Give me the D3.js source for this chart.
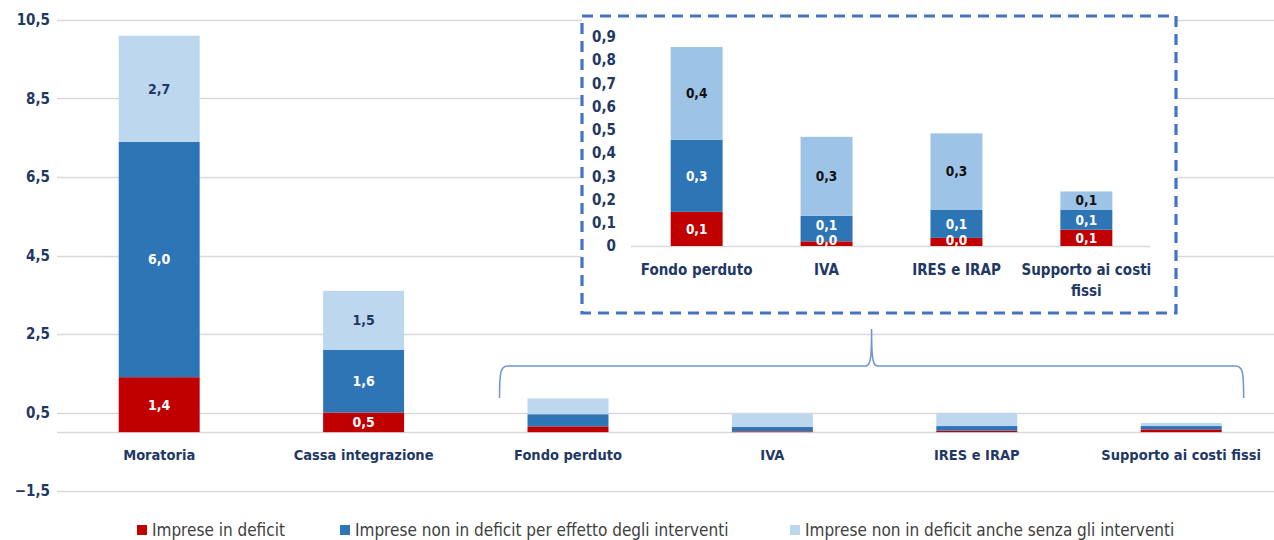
<!DOCTYPE html>
<meta charset="utf-8">
<style>
    body { margin: 0; background: #fff; }
    svg { display: block; font-family: "Liberation Sans Narrow", "DejaVu Sans Condensed", sans-serif; }
</style>
<svg width="1274" height="540"></svg>
<script src="https://d3js.org/d3.v7.min.js"></script>
<script>

    // categorie del grafico principale
    var categories = ["Moratoria", "Cassa integrazione", "Fondo perduto", "IVA", "IRES e IRAP", "Supporto ai costi fissi"];
    var insetCategories = ["Fondo perduto", "IVA", "IRES e IRAP", "Supporto ai costi fissi"];

    // valori (miliardi) per serie
    var deficit    = [1.4, 0.5, 0.147, 0.02, 0.035, 0.07];
    var salvate    = [6.0, 1.6, 0.31, 0.11, 0.12, 0.085];
    var nonDeficit = [2.7, 1.5, 0.40, 0.34, 0.33, 0.08];

    var seriesNames = ["Imprese in deficit", "Imprese non in deficit per effetto degli interventi", "Imprese non in deficit anche senza gli interventi"];

    var yTicks = [-1.5, 0.5, 2.5, 4.5, 6.5, 8.5, 10.5];
    var insetTicks = [0, 0.1, 0.2, 0.3, 0.4, 0.5, 0.6, 0.7, 0.8, 0.9];

    var colors = ["#C00000", "#2E75B6", "#BDD7EE"];
    var insetColors = ["#C00000", "#2E75B6", "#9DC3E6"];
    var navy = "#1F3864";

    var fmt = function (v) { return d3.format(".1f")(v).replace(".", ","); };

    var table = categories.map(function (c, i) {
        return { cat: c, s0: deficit[i], s1: salvate[i], s2: nonDeficit[i] };
    });
    var stack = d3.stack().keys(["s0", "s1", "s2"]);
    var layers = stack(table);

    var svg = d3.select("svg");

    // ---- grafico principale ----
    var x = d3.scaleBand().domain(categories).range([57, 1283.4]).paddingInner(0.604).paddingOuter(0.302);
    var y = d3.scaleLinear().domain([-1.5, 10.5]).range([491, 20]);

    svg.append("g").selectAll("line").data(yTicks.concat([0])).enter().append("line")
        .attr("x1", 57).attr("x2", 1274)
        .attr("y1", function (d) { return Math.round(y(d)) + 0.5; })
        .attr("y2", function (d) { return Math.round(y(d)) + 0.5; })
        .attr("stroke", "#d9d9d9").attr("stroke-width", 1.3);

    svg.append("g").selectAll("text").data(yTicks).enter().append("text")
        .attr("x", 50).attr("y", function (d) { return y(d); })
        .attr("dy", "0.35em").attr("text-anchor", "end")
        .attr("font-size", 15).attr("font-weight", "bold").attr("fill", navy)
        .text(fmt);

    var bars = svg.append("g").selectAll("g").data(layers).enter().append("g")
        .attr("fill", function (d, i) { return colors[i]; });
    bars.selectAll("rect").data(function (d) { return d; }).enter().append("rect")
        .attr("x", function (d) { return x(d.data.cat); })
        .attr("width", x.bandwidth())
        .attr("y", function (d) { return y(d[1]); })
        .attr("height", function (d) { return y(d[0]) - y(d[1]); });

    // etichette solo per le prime due categorie
    layers.forEach(function (layer, li) {
        svg.append("g").selectAll("text").data(layer.slice(0, 2)).enter().append("text")
            .attr("x", function (d) { return x(d.data.cat) + x.bandwidth() / 2; })
            .attr("y", function (d) { return y((d[0] + d[1]) / 2); })
            .attr("dy", "0.35em").attr("text-anchor", "middle")
            .attr("font-size", 14).attr("font-weight", "bold")
            .attr("fill", li === 2 ? navy : "#fff")
            .text(function (d) { return fmt(d[1] - d[0]); });
    });

    svg.append("g").selectAll("text").data(categories).enter().append("text")
        .attr("x", function (d) { return x(d) + x.bandwidth() / 2; })
        .attr("y", 455).attr("dy", "0.35em").attr("text-anchor", "middle")
        .attr("font-size", 14.5).attr("font-weight", "bold").attr("fill", navy)
        .text(function (d) { return d; });

    // ---- parentesi graffa ----
    var bx0 = x("Fondo perduto") - 28, bx1 = x("Supporto ai costi fissi") + x.bandwidth() + 22;
    var bm = (bx0 + bx1) / 2, by0 = 398, by1 = 366, bp = 329;
    var brace = d3.path();
    brace.moveTo(bx0, by0);
    brace.bezierCurveTo(bx0, by1 + 6, bx0 + 1, by1, bx0 + 8, by1);
    brace.lineTo(bm - 6, by1);
    brace.bezierCurveTo(bm - 1, by1, bm, by1 - 8, bm, bp);
    brace.bezierCurveTo(bm, by1 - 8, bm + 1, by1, bm + 6, by1);
    brace.lineTo(bx1 - 8, by1);
    brace.bezierCurveTo(bx1 - 1, by1, bx1, by1 + 6, bx1, by0);
    svg.append("path").attr("d", brace.toString())
        .attr("fill", "none").attr("stroke", "#6F93D6").attr("stroke-width", 1.5);

    // ---- riquadro di dettaglio ----
    var inset = svg.append("g");
    inset.append("rect").attr("x", 582).attr("y", 16).attr("width", 594).attr("height", 297)
        .attr("fill", "#fff").attr("stroke", "#4472C4").attr("stroke-width", 3.2)
        .attr("stroke-dasharray", "11,7");

    var xi = d3.scaleBand().domain(insetCategories).range([633, 1150]).paddingInner(0.6).paddingOuter(0.29);
    var yi = d3.scaleLinear().domain([0, 0.9]).range([246, 37]);
    var insetLayers = layers.map(function (l) { return l.slice(2); });

    inset.append("line").attr("x1", 631).attr("x2", 1150).attr("y1", yi(0) + 0.5).attr("y2", yi(0) + 0.5)
        .attr("stroke", "#d9d9d9").attr("stroke-width", 1.3);

    inset.append("g").selectAll("text").data(insetTicks).enter().append("text")
        .attr("x", 616).attr("y", function (d) { return yi(d); })
        .attr("dy", "0.35em").attr("text-anchor", "end")
        .attr("font-size", 15).attr("font-weight", "bold").attr("fill", navy)
        .text(function (d) { return d === 0 ? "0" : fmt(d); });

    insetLayers.forEach(function (layer, li) {
        inset.append("g").attr("fill", insetColors[li]).selectAll("rect").data(layer).enter().append("rect")
            .attr("x", function (d) { return xi(d.data.cat); })
            .attr("width", xi.bandwidth())
            .attr("y", function (d) { return yi(d[1]); })
            .attr("height", function (d) { return yi(d[0]) - yi(d[1]); });
    });

    // posizione etichette: evita sovrapposizioni spingendo verso l'alto
    var lastY = {};
    insetLayers.forEach(function (layer, li) {
        inset.append("g").selectAll("text").data(layer).enter().append("text")
            .attr("x", function (d) { return xi(d.data.cat) + xi.bandwidth() / 2; })
            .attr("y", function (d) {
                var ly = Math.min(yi((d[0] + d[1]) / 2), yi(0) - 6);
                if (lastY[d.data.cat] !== undefined) ly = Math.min(ly, lastY[d.data.cat] - 15);
                lastY[d.data.cat] = ly;
                return ly;
            })
            .attr("dy", "0.35em").attr("text-anchor", "middle")
            .attr("font-size", 13.5).attr("font-weight", "bold")
            .attr("fill", li === 2 ? "#111" : "#fff")
            .text(function (d) { return fmt(d[1] - d[0]); });
    });

    var lbl = inset.append("g").selectAll("text").data(insetCategories).enter().append("text")
        .attr("x", function (d) { return xi(d) + xi.bandwidth() / 2; })
        .attr("y", 270).attr("text-anchor", "middle")
        .attr("font-size", 15).attr("font-weight", "bold").attr("fill", navy);
    lbl.each(function (d) {
        var t = d3.select(this), cx = +t.attr("x");
        var words = d.split(" ");
        // a capo sull'ultima parola se troppo lungo
        if (words.length > 3) {
            t.append("tspan").attr("x", cx).attr("dy", "0.35em").text(words.slice(0, -1).join(" "));
            t.append("tspan").attr("x", cx).attr("dy", "1.35em").text(words[words.length - 1]);
        } else {
            t.append("tspan").attr("x", cx).attr("dy", "0.35em").text(d);
        }
    });

    // ---- legenda ----
    var legX = [137, 340, 790];
    var leg = svg.append("g").selectAll("g").data(seriesNames).enter().append("g")
        .attr("transform", function (d, i) { return "translate(" + legX[i] + ",530)"; });
    leg.append("rect").attr("x", 0).attr("y", -5).attr("width", 10).attr("height", 10)
        .attr("fill", function (d, i) { return colors[i]; });
    leg.append("text").attr("x", 15).attr("dy", "0.35em")
        .attr("font-size", 17).attr("fill", "#404040")
        .text(function (d) { return d; });

</script>
